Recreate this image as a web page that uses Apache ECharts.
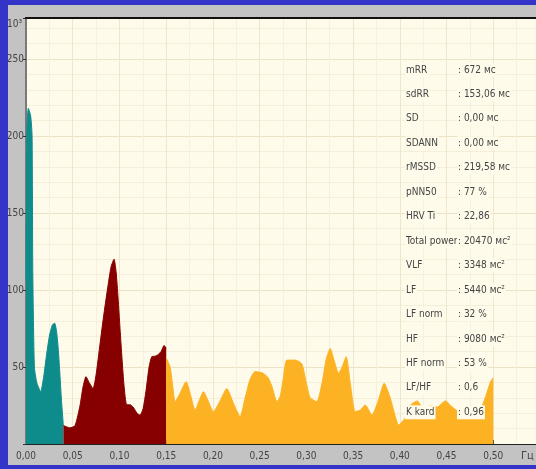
<!DOCTYPE html>
<html>
<head>
<meta charset="utf-8">
<script src="https://cdn.jsdelivr.net/npm/echarts@6/dist/echarts.min.js"></script>
<style>
html,body{margin:0;padding:0;background:#3434c8;width:536px;height:469px;overflow:hidden;position:relative}
#panel{position:absolute;left:8px;top:5px;width:528px;height:460px;background:#c3c3c3}
#chart{position:absolute;left:0;top:0;width:560px;height:469px}
</style>
</head>
<body>
<div id="panel"></div>
<div id="chart"></div>
<script>
// VLF band (0 - 0.04 Hz)
const vlfFreq = [0, 0.001, 0.0025, 0.005, 0.0065, 0.0073, 0.009, 0.0115, 0.0157, 0.019, 0.022, 0.025, 0.028, 0.0305, 0.0325, 0.0345, 0.036, 0.038, 0.04];
const vlfVal  = [106, 205, 218, 213, 200, 110, 50, 40, 34, 44, 58, 70, 77, 78.5, 74, 62, 48, 28, 12];
// LF band (0.04 - 0.15 Hz)
const lfFreq = [0.04, 0.047, 0.0525, 0.0578, 0.061, 0.0642, 0.0675, 0.0717, 0.075, 0.0792, 0.0835, 0.0878, 0.091, 0.0942, 0.0964, 0.0985, 0.1006, 0.1028, 0.1049, 0.1078, 0.1113, 0.1146, 0.1188, 0.122, 0.1253, 0.1285, 0.1317, 0.1346, 0.1381, 0.1413, 0.1445, 0.1478, 0.15];
const lfVal  = [12, 10.5, 12, 25, 37, 43.7, 40, 36, 45, 65, 85, 103, 115, 120, 112, 95, 75, 55, 38, 25.5, 25.5, 24, 20, 18.8, 23, 35, 50, 56.7, 57, 58, 60, 64, 62];
// HF band (0.15 - 0.50 Hz)
const hfFreq = [0.15, 0.1542, 0.1575, 0.1595, 0.1649, 0.1713, 0.1756, 0.1809, 0.1852, 0.1898, 0.1949, 0.2005, 0.2077, 0.2149, 0.2216, 0.2291, 0.2345, 0.2398, 0.2452, 0.2537, 0.2591, 0.2634, 0.2684, 0.2719, 0.2752, 0.2791, 0.288, 0.2952, 0.2998, 0.3041, 0.3112, 0.3169, 0.3212, 0.3255, 0.3298, 0.3344, 0.3383, 0.3426, 0.3469, 0.3522, 0.3576, 0.363, 0.3701, 0.3769, 0.3833, 0.3897, 0.3951, 0.3986, 0.4058, 0.4111, 0.4186, 0.4261, 0.4325, 0.44, 0.4486, 0.4561, 0.4647, 0.4732, 0.4807, 0.4861, 0.4914, 0.4968, 0.5];
const hfVal  = [56, 50, 35, 27.5, 33, 40.5, 33, 22, 28, 34, 28, 21, 28, 36, 27, 17.7, 30, 42, 47, 46, 43, 37, 27.5, 30.7, 42, 54.5, 54.5, 52, 40, 30, 27.5, 40, 55, 62, 54, 46, 50, 56.7, 40, 21, 22, 25.3, 18.8, 28, 39.4, 30, 18, 12.3, 17, 25, 28, 22, 25, 24, 28, 24, 20, 18, 20, 22, 30, 40, 43];

const xTicks = [0, 0.05, 0.10, 0.15, 0.20, 0.25, 0.30, 0.35, 0.40, 0.45, 0.50];
const yTicks = [50, 100, 150, 200, 250];
const yUnit = '10³';
const xUnit = 'Гц';

const infoLabels = ['mRR', 'sdRR', 'SD', 'SDANN', 'rMSSD', 'pNN50', 'HRV Ti', 'Total power', 'VLF', 'LF', 'LF norm', 'HF', 'HF norm', 'LF/HF', 'K kard'];
const infoValues = [': 672 мс', ': 153,06 мс', ': 0,00 мс', ': 0,00 мс', ': 219,58 мс', ': 77 %', ': 22,86', ': 20470 мс²', ': 3348 мс²', ': 5440 мс²', ': 32 %', ': 9080 мс²', ': 53 %', ': 0,6', ': 0,96'];

const FONT = '"Liberation Sans Narrow","DejaVu Sans Condensed","Liberation Sans",sans-serif';
const CREAM = '#fffbea';
const TXT = '#444';

function pairs(f, v) { return f.map((x, i) => [x, v[i]]); }
function band(name, f, v, color) {
  return {
    name: name, type: 'line', data: pairs(f, v), showSymbol: false, smooth: 0.2,
    lineStyle: {color: color, width: 1}, itemStyle: {color: color},
    areaStyle: {color: color, opacity: 1}, silent: true, z: 3
  };
}

const graphics = [
  {type: 'line', shape: {x1: 25, y1: 18, x2: 560, y2: 18}, style: {stroke: '#111', lineWidth: 2}, z: 50},
  {type: 'text', x: 521, y: 456, style: {text: xUnit, fill: TXT, font: '11px ' + FONT, textVerticalAlign: 'middle'}, z: 50},
  {type: 'text', x: 7, y: 19, style: {text: yUnit, fill: TXT, font: '10px ' + FONT, textVerticalAlign: 'top'}, z: 50}
];
infoLabels.forEach((lab, i) => {
  const y = 70 + 24.45 * i;
  graphics.push({type: 'text', x: 405, y: y, z: 100,
    style: {text: lab, fill: TXT, font: '10px ' + FONT, textVerticalAlign: 'middle', backgroundColor: CREAM, padding: [2, 1]}});
  graphics.push({type: 'text', x: 457, y: y, z: 100,
    style: {text: infoValues[i], fill: TXT, font: '10px ' + FONT, textVerticalAlign: 'middle', backgroundColor: CREAM, padding: [2, 1]}});
});

const chart = echarts.init(document.getElementById('chart'), null, {renderer: 'canvas'});
chart.setOption({
  animation: false,
  backgroundColor: 'transparent',
  grid: {left: 26, top: 18, width: 514, bottom: 25, show: true, backgroundColor: CREAM, borderWidth: 0, containLabel: false},
  xAxis: {
    type: 'value', min: 0, max: 0.55, interval: 0.05,
    axisLine: {show: true, lineStyle: {color: '#222', width: 1}},
    axisTick: {show: true, inside: true, length: 4, lineStyle: {color: '#333'}},
    axisLabel: {
      fontSize: 10, fontFamily: FONT, color: TXT, margin: 7,
      formatter: v => {
        const hit = xTicks.find(t => Math.abs(t - v) < 1e-6);
        return hit === undefined ? '' : hit.toFixed(2).replace('.', ',');
      }
    },
    splitLine: {show: true, lineStyle: {color: '#efe7cc', width: 1}},
    minorTick: {show: false, splitNumber: 2},
    minorSplitLine: {show: true, lineStyle: {color: '#f6f0dc', width: 1}}
  },
  yAxis: {
    type: 'value', min: 0, max: 276.6, interval: 50,
    axisLine: {show: true, lineStyle: {color: '#7a7a7a', width: 2}},
    axisTick: {show: true, length: 3, lineStyle: {color: '#333'}},
    axisLabel: {
      fontSize: 10, fontFamily: FONT, color: TXT, margin: 2,
      formatter: v => {
        const hit = yTicks.find(t => Math.abs(t - v) < 1e-6);
        return hit === undefined ? '' : String(hit);
      }
    },
    splitLine: {show: true, lineStyle: {color: '#ece3c6', width: 1}},
    minorTick: {show: false, splitNumber: 5},
    minorSplitLine: {show: true, lineStyle: {color: '#f5efd9', width: 1}}
  },
  series: [
    band('VLF', vlfFreq, vlfVal, '#0e8c8c'),
    band('LF', lfFreq, lfVal, '#870000'),
    band('HF', hfFreq, hfVal, '#fcb223')
  ],
  graphic: graphics
});
</script>
</body>
</html>
